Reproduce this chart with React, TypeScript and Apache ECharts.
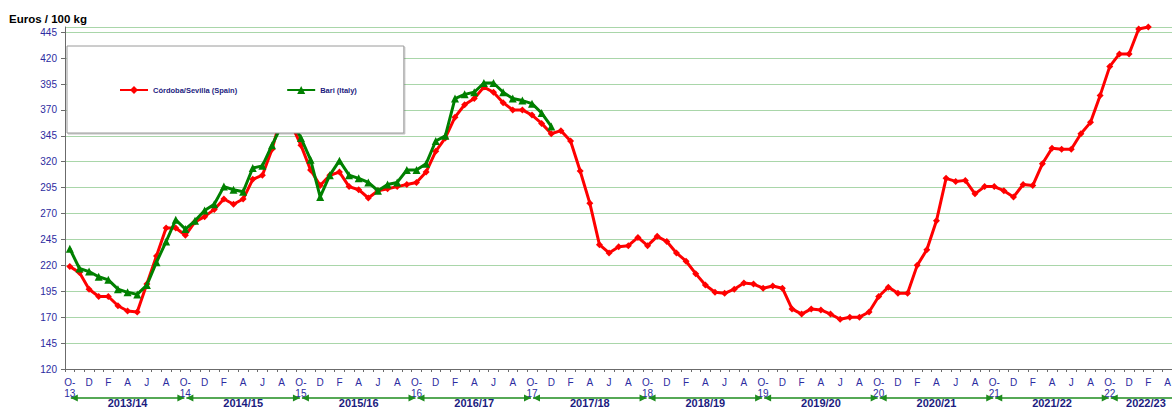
import React, { useEffect, useRef } from 'react';
import * as echarts from 'echarts';

// ---- data ----
const monthLetters = ['O', 'N', 'D', 'J', 'F', 'M', 'A', 'M', 'J', 'J', 'A', 'S'];
const firstYear = 13; // October 2013
const monthCount = 116; // Oct-13 .. May-23
const categories: string[] = Array.from({ length: monthCount }, (_, i) =>
  i % 12 === 0 ? `O-\n${firstYear + i / 12}` : monthLetters[i % 12]
);

const seasons = ['2013/14', '2014/15', '2015/16', '2016/17', '2017/18', '2018/19', '2019/20', '2020/21', '2021/22', '2022/23'];
const seasonStart = [0, 12, 24, 36, 48, 60, 72, 84, 96, 108];
const seasonEnd = [12, 24, 36, 48, 60, 72, 84, 96, 108, 120];

const cordobaSevilla = [
  219, 213, 197, 190, 190, 181, 176, 175, 202, 229, 256, 256,
  249, 262, 267, 274, 284, 279, 284, 303, 307, 332, 365, 356,
  336, 312, 297, 307, 310, 296, 293, 285, 292, 294, 296, 298,
  300, 310, 330, 343, 363, 375, 381, 392, 387, 377, 370, 370,
  365, 357, 347, 350, 340, 311, 280, 240, 232, 238, 239, 247,
  239, 248, 243, 232, 224, 212, 201, 194, 193, 197, 203, 202,
  198, 200, 198, 178, 173, 178, 177, 173, 168, 170, 170, 175,
  190, 199, 193, 193, 220, 235, 263, 304, 301, 302, 289, 296,
  296, 292, 286, 298, 297, 318, 333, 332, 332, 347, 358, 384,
  412, 424, 424, 448, 450,
];

const bari = [
  236, 217, 214, 209, 206, 197, 194, 192, 201, 223, 243, 264,
  255, 263, 273, 279, 296, 293, 291, 314, 316, 336, 355, 360,
  343, 322, 286, 307, 321, 307, 304, 300, 292, 298, 300, 312,
  312, 318, 340, 345, 381, 385, 387, 396, 396, 387, 381, 379,
  376, 367, 354,
];

const yMin = 120;
const yMax = 450;
const yStep = 25;

const FONT = 'Arial, "Liberation Sans", sans-serif';
const LABEL_BLUE = '#2B2BA0';
const NAVY = '#1C1C80';

export default function App() {
  const ref = useRef<HTMLDivElement>(null);

  useEffect(() => {
    if (!ref.current) return;
    const chart = echarts.init(ref.current, undefined, { renderer: 'svg' });

    const option: any = {
      animation: false,
      backgroundColor: '#ffffff',
      grid: { left: 65, right: 0, top: 27, bottom: 39 },
      graphic: [
        {
          type: 'text',
          left: 9,
          top: 13,
          style: { text: 'Euros / 100 kg', font: `bold 11.5px ${FONT}`, fill: '#000' },
        },
      ],
      legend: {
        data: ['Córdoba/Sevilla (Spain)', 'Bari (Italy)'],
        left: 67,
        top: 46,
        orient: 'horizontal',
        itemGap: 49,
        itemWidth: 28,
        itemHeight: 10,
        padding: [40, 47, 39, 52],
        backgroundColor: '#ffffff',
        borderColor: '#9a9a9a',
        borderWidth: 1,
        shadowColor: 'rgba(0,0,0,0.25)',
        shadowOffsetX: 1,
        shadowOffsetY: 1,
        shadowBlur: 0,
        selectedMode: false,
        textStyle: { fontSize: 7.5, fontWeight: 'bold', color: NAVY, fontFamily: FONT },
      },
      xAxis: {
        type: 'category',
        data: categories,
        boundaryGap: true,
        axisLine: { lineStyle: { color: '#6b6b6b', width: 1 } },
        axisTick: { show: true, interval: 0, length: 3, lineStyle: { color: '#6b6b6b' } },
        axisLabel: { interval: 1, color: LABEL_BLUE, fontSize: 10, lineHeight: 11, margin: 8, fontFamily: FONT },
        splitLine: { show: false },
      },
      yAxis: {
        type: 'value',
        min: yMin,
        max: yMax,
        interval: yStep,
        axisLine: { show: true, lineStyle: { color: '#6b6b6b', width: 1 } },
        axisTick: { show: true, length: 4, lineStyle: { color: '#6b6b6b' } },
        axisLabel: { showMaxLabel: false, color: LABEL_BLUE, fontSize: 10, margin: 8, fontFamily: FONT },
        splitLine: { show: true, lineStyle: { color: '#A9D6A9', width: 1 } },
      },
      series: [
        {
          name: 'Córdoba/Sevilla (Spain)',
          type: 'line',
          data: cordobaSevilla,
          symbol: 'diamond',
          symbolSize: 7,
          showAllSymbol: true,
          lineStyle: { width: 3, color: '#FF0000' },
          itemStyle: { color: '#FF0000' },
          z: 2,
        },
        {
          name: 'Bari (Italy)',
          type: 'line',
          data: bari,
          symbol: 'triangle',
          symbolSize: 8,
          showAllSymbol: true,
          lineStyle: { width: 3, color: '#008000' },
          itemStyle: { color: '#008000' },
          z: 3,
        },
        {
          type: 'custom',
          silent: true,
          clip: false,
          z: 5,
          data: seasons.map((_, i) => [seasonStart[i], seasonEnd[i], yMin]),
          encode: { x: [0, 1], y: 2 },
          renderItem: (params: any, api: any) => {
            const s = api.value(0);
            const e = api.value(1);
            const p0 = api.coord([s, yMin]);
            const p1 = api.coord([e, yMin]);
            const cs = params.coordSys;
            const right = cs.x + cs.width;
            const x0 = p0[0];
            const endVisible = p1[0] <= right + 0.5;
            const x1 = Math.min(p1[0], right);
            const y = p0[1] + 29;
            const green = '#1E8C1E';
            const children: any[] = [
              {
                type: 'line',
                shape: { x1: x0 + 1, y1: y, x2: x1 - 1, y2: y },
                style: { stroke: green, lineWidth: 1.5 },
              },
              {
                type: 'polygon',
                shape: { points: [[x0 + 1, y], [x0 + 8, y - 3.5], [x0 + 8, y + 3.5]] },
                style: { fill: green },
              },
            ];
            if (endVisible) {
              children.push({
                type: 'polygon',
                shape: { points: [[x1 - 1, y], [x1 - 8, y - 3.5], [x1 - 8, y + 3.5]] },
                style: { fill: green },
              });
            }
            children.push({
              type: 'text',
              x: (x0 + x1) / 2,
              y: y + 5,
              style: {
                text: seasons[params.dataIndex],
                font: `bold 11px ${FONT}`,
                lineHeight: 10,
                fill: NAVY,
                align: 'center',
                verticalAlign: 'middle',
              },
            });
            return { type: 'group', children };
          },
        },
      ],
    };

    chart.setOption(option);
    return () => chart.dispose();
  }, []);

  return (
    <div
      style={{
        position: 'fixed',
        left: 0,
        top: 0,
        width: 1172,
        height: 408,
        overflow: 'hidden',
        background: '#fff',
      }}
    >
      <div ref={ref} style={{ width: 1182, height: 408 }} />
    </div>
  );
}
